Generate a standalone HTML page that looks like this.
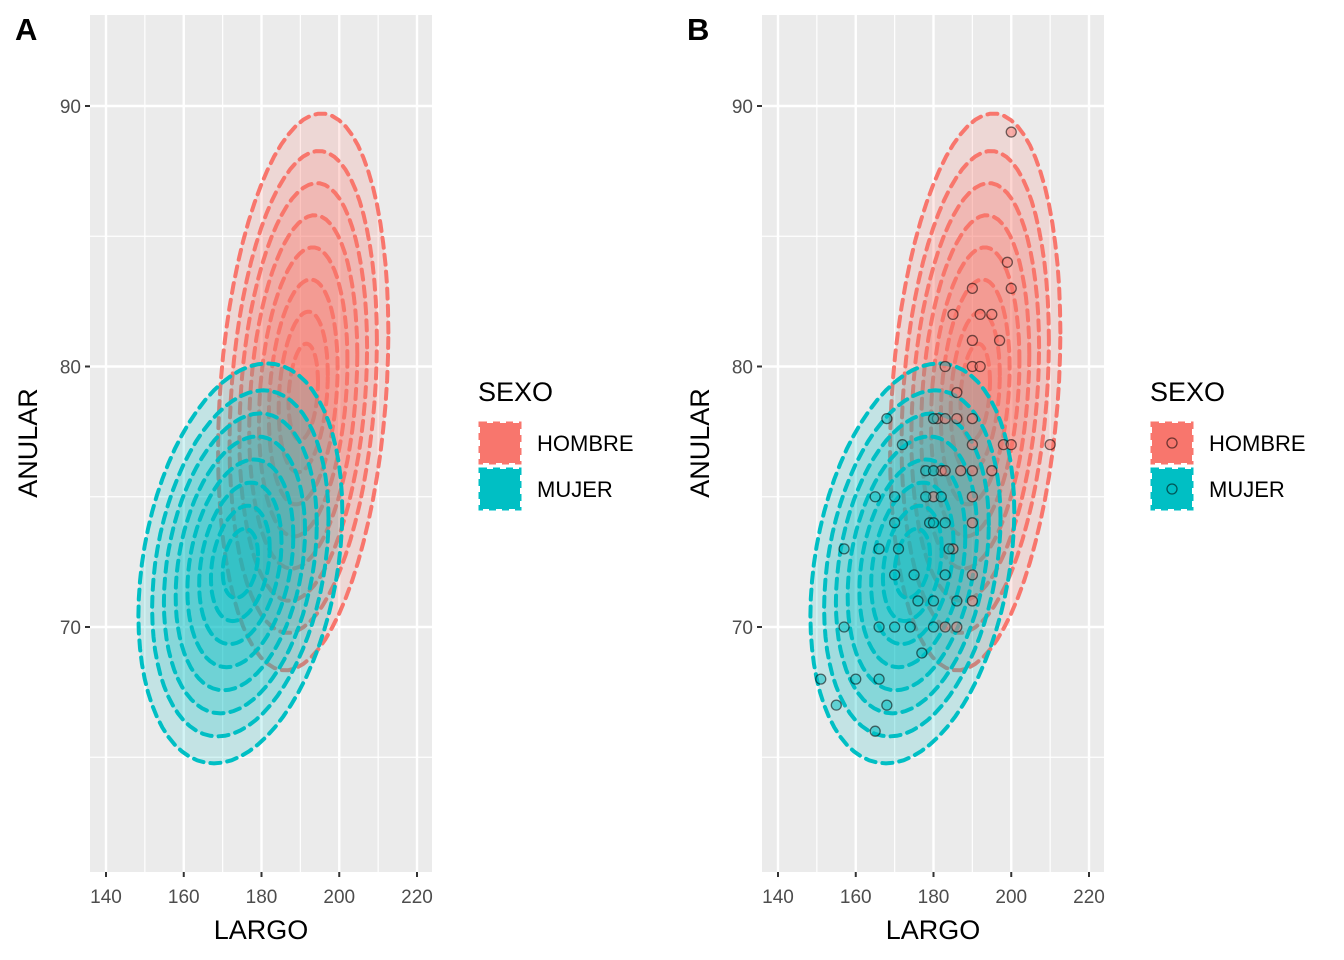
<!DOCTYPE html>
<html><head><meta charset="utf-8">
<style>
html,body{margin:0;padding:0;background:#fff;}
svg{display:block;font-family:"Liberation Sans",Arial,sans-serif;}
</style></head>
<body>
<svg id="chart" width="1344" height="960" xmlns="http://www.w3.org/2000/svg"></svg>
<script>
// ---- data ----
const xTicks = [140,160,180,200,220];
const yTicks = [70,80,90];
const hombreX = [200,199,200,190,185,192,195,190,197,183,190,192,186,190,186,198,200,210,190,187,190,195,190,190,190,190,186,183,185,182,183,181,183,180];
const hombreY = [89,84,83,83,82,82,82,81,81,80,80,80,79,78,78,77,77,77,77,76,76,76,75,74,72,71,70,70,73,76,76,78,78,75];
const mujerX = [168,180,172,178,180,165,170,178,182,170,179,180,183,157,166,171,184,170,175,183,176,180,186,157,166,170,174,180,177,151,160,166,155,168,165];
const mujerY = [78,78,77,76,76,75,75,75,75,74,74,74,74,73,73,73,73,72,72,72,71,71,71,70,70,70,70,70,69,68,68,68,67,67,66];
const levels = [0.45,0.75,1.05,1.35,1.65,1.95,2.25,2.6];

const NS="http://www.w3.org/2000/svg";
const svg=document.getElementById('chart');
function el(tag,attrs,parent){const e=document.createElementNS(NS,tag);for(const k in attrs)e.setAttribute(k,attrs[k]);(parent||svg).appendChild(e);return e;}

function stats(xs,ys){
  const n=xs.length;let mx=0,my=0;for(let i=0;i<n;i++){mx+=xs[i];my+=ys[i];}mx/=n;my/=n;
  let sxx=0,syy=0,sxy=0;for(let i=0;i<n;i++){const dx=xs[i]-mx,dy=ys[i]-my;sxx+=dx*dx;syy+=dy*dy;sxy+=dx*dy;}
  return {mx,my,sxx:sxx/(n-1),syy:syy/(n-1),sxy:sxy/(n-1)};
}

function panel(ox,label,showPts){
  const L=90+ox,R=432+ox,T=15,B=872;
  const X=v=>106+ox+(v-140)*3.8875;
  const Y=v=>627-(v-70)*26.05;
  const g=el('g',{});
  
  
  const bg=el('rect',{x:L,y:T,width:R-L,height:B-T,fill:'#EBEBEB'},g);
  
  
  for(let v=150;v<=210;v+=20) el('line',{x1:X(v),x2:X(v),y1:T,y2:B,stroke:'#fff','stroke-width':1.2},g);
  for(const v of [65,75,85]) el('line',{x1:L,x2:R,y1:Y(v),y2:Y(v),stroke:'#fff','stroke-width':1.2},g);
  xTicks.forEach(v=>{
    el('line',{x1:X(v),x2:X(v),y1:T,y2:B,stroke:'#fff','stroke-width':2.4},g);
    el('line',{x1:X(v),x2:X(v),y1:B,y2:B+5,stroke:'#333','stroke-width':2},g);
    const t=el('text',{x:X(v),y:B+31,'text-anchor':'middle','font-size':19,fill:'#4D4D4D'},g);t.textContent=v;
    
    
  });
  yTicks.forEach(v=>{
    el('line',{x1:L,x2:R,y1:Y(v),y2:Y(v),stroke:'#fff','stroke-width':2.4},g);
    el('line',{x1:L-5,x2:L,y1:Y(v),y2:Y(v),stroke:'#333','stroke-width':2},g);
    const t=el('text',{x:L-9,y:Y(v)+7,'text-anchor':'end','font-size':19,fill:'#4D4D4D'},g);t.textContent=v;
    
    
  });
  // [xs, ys, colour, name, x-scale, y-scale, correlation damping, centre shift y, centre shift x]
  const groups=[[hombreX,hombreY,'#F8766D','hombre',1.25,0.98,0.55,1.2,0.5],[mujerX,mujerY,'#00BFC4','mujer',1.12,0.92,0.6,0.3,2.5]];
  groups.forEach(([xs,ys,col,nm,fx,fy,cd,sh,sx])=>{
    const s=stats(xs,ys);
    const a=s.sxx*fx*fx,b=s.sxy*fx*fy*cd,c=s.syy*fy*fy;
    const l11=Math.sqrt(a),l21=b/l11,l22=Math.sqrt(Math.max(c-l21*l21,0.01));
    levels.forEach(k=>{
      let d='';
      for(let i=0;i<=72;i++){const t=i/72*2*Math.PI;const u=Math.cos(t)*k,w=Math.sin(t)*k;
        const dx=l11*u,dy=l21*u+l22*w;
        d+=(i?'L':'M')+X(s.mx+sx+dx).toFixed(1)+','+Y(s.my+sh+dy).toFixed(1);}
      const p=el('path',{d:d+'Z',fill:col,'fill-opacity':0.17,stroke:col,'stroke-width':4,'stroke-dasharray':'10 7','stroke-linecap':'round'},g);
      
      
    });
  });
  if(showPts){
    groups.forEach(([xs,ys,col,nm])=>{
      xs.forEach((v,i)=>{
        const c=el('circle',{cx:X(v),cy:Y(ys[i]),r:5,fill:col,'fill-opacity':0.5,stroke:'#000','stroke-opacity':0.55,'stroke-width':1.3},g);
        
        
      });
    });
  }
  const tl=el('text',{x:15+ox,y:40,'font-size':31,'font-weight':'bold',fill:'#000'},g);tl.textContent=label;
  
  
  const xt=el('text',{x:(L+R)/2,y:939,'text-anchor':'middle','font-size':27,fill:'#000'},g);xt.textContent='LARGO';
  
  
  const yt=el('text',{x:0,y:0,'text-anchor':'middle','font-size':27,fill:'#000',transform:`translate(${37+ox},443) rotate(-90)`},g);yt.textContent='ANULAR';
  
  
  const lg=el('g',{},g);
  
  
  const lt=el('text',{x:478+ox,y:401,'font-size':27,fill:'#000'},lg);lt.textContent='SEXO';
  
  
  [['#F8766D','HOMBRE',421],['#00BFC4','MUJER',467]].forEach(([col,txt,y])=>{
    const k=el('rect',{x:480+ox,y:y+2,width:40,height:40,fill:col,stroke:col,'stroke-width':3,'stroke-dasharray':'7 6'},lg);
    
    
    if(showPts) el('circle',{cx:500+ox,cy:y+22,r:5,fill:'none',stroke:'#000','stroke-opacity':0.55,'stroke-width':1.3},lg);
    const t=el('text',{x:537+ox,y:y+30,'font-size':22,fill:'#000'},lg);t.textContent=txt;
    
    
  });
}
panel(0,'A',false);
panel(672,'B',true);
</script>
</body></html>
